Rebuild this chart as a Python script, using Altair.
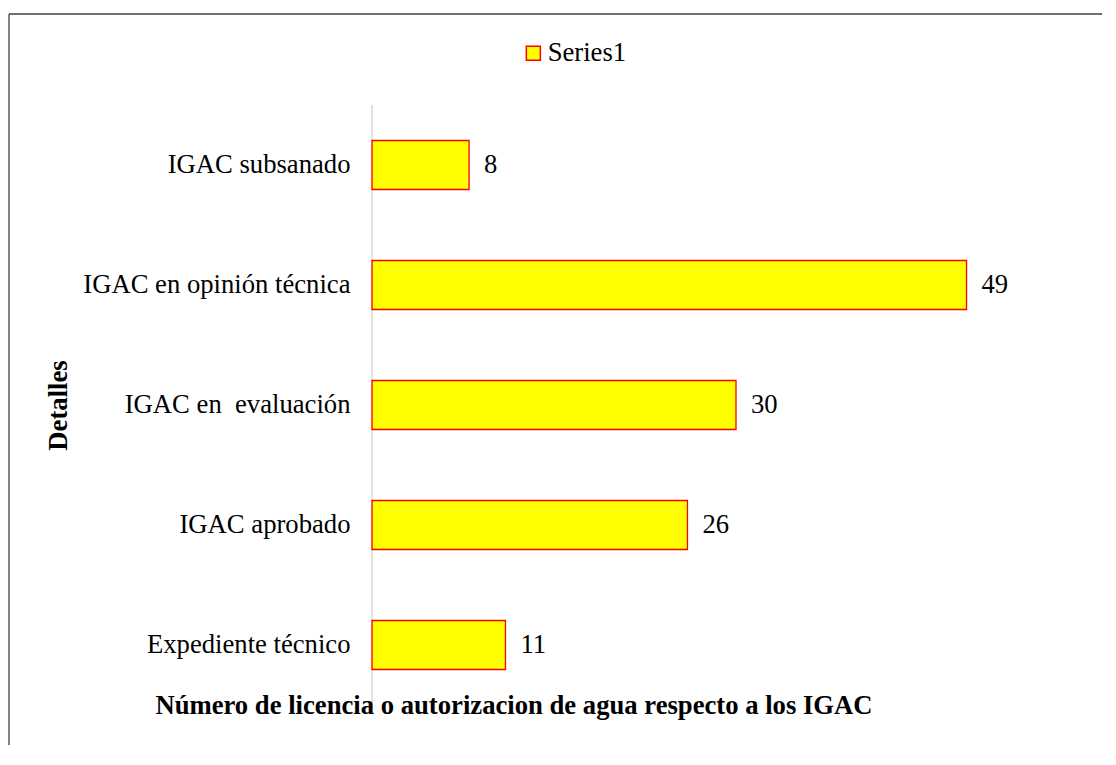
import altair as alt
import pandas as pd

categories = [
    "IGAC subsanado",
    "IGAC en opinión técnica",
    "IGAC en\u00a0 evaluación",
    "IGAC aprobado",
    "Expediente técnico",
]
values = [8, 49, 30, 26, 11]
series_name = "Series1"
x_title = "Número de licencia o autorizacion de agua respecto a los IGAC"
y_title = "Detalles"

FONT = "Liberation Serif"
FS = 26.67

df = pd.DataFrame({
    "Detalle": categories,
    "valor": values,
    "serie": [series_name] * len(categories),
})

y_enc = alt.Y(
    "Detalle:N",
    sort=categories,
    scale=alt.Scale(paddingInner=0.592, paddingOuter=0.296),
    axis=alt.Axis(
        title=y_title, labelFont=FONT, labelFontSize=FS, labelColor="black",
        labelPadding=22, labelLimit=600, ticks=False, tickSize=0, domain=False, grid=False,
        titleFont=FONT, titleFontSize=FS, titleFontWeight="bold", titleColor="black",
        titleAngle=270, titleX=-306, titleY=300, titleAlign="center",
        titleBaseline="alphabetic",
    ),
)
x_enc = alt.X(
    "valor:Q",
    scale=alt.Scale(domain=[0, 60]),
    axis=alt.Axis(
        title=x_title, labels=False, ticks=False, domain=False, grid=False,
        titleFont=FONT, titleFontSize=FS, titleFontWeight="bold", titleColor="black",
        titleX=141.5, titleY=8, titleAlign="center", titleBaseline="alphabetic",
        titleLimit=1000, zindex=1,
    ),
)

bars = alt.Chart(df).mark_bar(stroke="#FF0000", strokeWidth=1.3).encode(
    x=x_enc,
    y=y_enc,
    color=alt.Color(
        "serie:N",
        scale=alt.Scale(domain=[series_name], range=["#FFFF00"]),
        legend=alt.Legend(
            title=None, orient="none", legendX=148, legendY=-65,
            symbolType="square", symbolSize=196, symbolStrokeColor="#FF0000",
            symbolStrokeWidth=1.5, labelFont=FONT, labelFontSize=FS,
            labelColor="black", labelOffset=1, padding=0, labelLimit=400,
        ),
    ),
)

labels = alt.Chart(df).mark_text(
    align="left", baseline="middle", dx=15, font=FONT, fontSize=FS, color="black"
).encode(
    x="valor:Q",
    y=alt.Y("Detalle:N", sort=categories),
    text="valor:Q",
)

frame_data = alt.Data(values=[{"k": 0}])
axis_line = alt.Chart(frame_data).mark_rule(color="#D9D9D9", strokeWidth=1.5).encode(
    x=alt.value(0), y=alt.value(0), y2=alt.value(609)
)
top_border = alt.Chart(frame_data).mark_rule(color="#404040", strokeWidth=1.3).encode(
    x=alt.value(-363), x2=alt.value(730), y=alt.value(-91)
)
left_border = alt.Chart(frame_data).mark_rule(color="#404040", strokeWidth=1.3).encode(
    x=alt.value(-363), y=alt.value(-91), y2=alt.value(640)
)

chart = alt.layer(top_border, left_border, axis_line, bars, labels).properties(
    width=728,
    height=600,
    padding={"left": 0, "top": 5, "right": 0, "bottom": 0},
    background="white",
).configure(font=FONT).configure_text(font=FONT).configure_legend(
    labelFont=FONT
).configure_view(stroke=None)

chart.save("out.html", embed_options={"renderer": "svg", "actions": False})
